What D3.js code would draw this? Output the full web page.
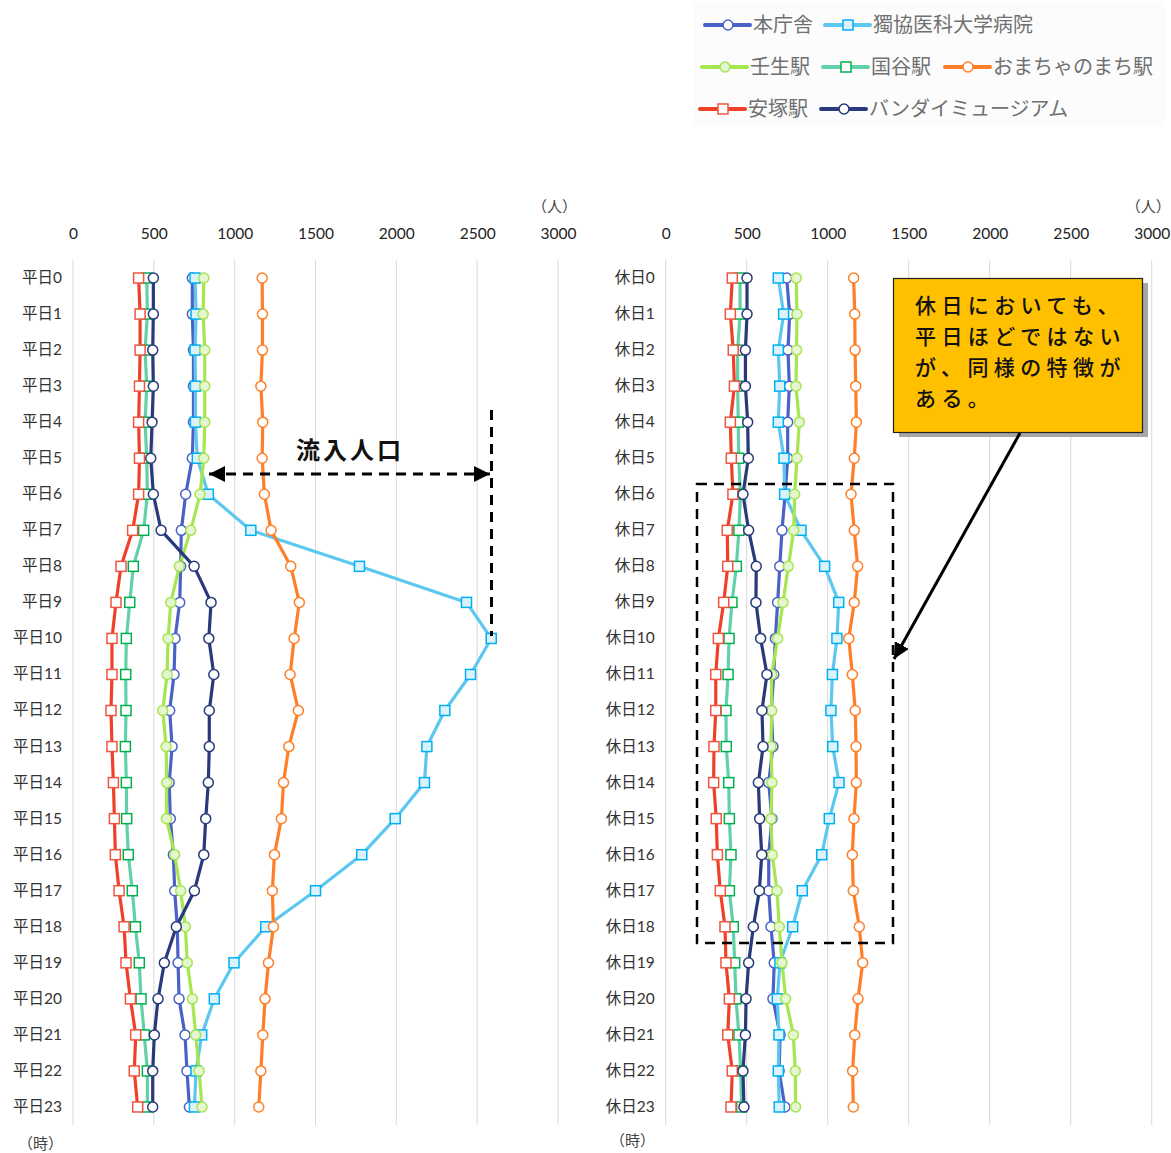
<!DOCTYPE html>
<html><head><meta charset="utf-8">
<script src="https://cdn.jsdelivr.net/npm/d3@7/dist/d3.min.js"></script>
<style>body{margin:0;background:#fff}svg{display:block}</style>
</head><body>
<svg id="c" width="1171" height="1153"></svg>
<script>
// ---------- data ----------
const hours = [0,1,2,3,4,5,6,7,8,9,10,11,12,13,14,15,16,17,18,19,20,21,22,23];
const xTicks = [0,500,1000,1500,2000,2500,3000];
const seriesNames = ["本庁舎","獨協医科大学病院","壬生駅","国谷駅","おまちゃのまち駅","安塚駅","バンダイミュージアム"];
const weekdayPrefix = "平日";
const holidayPrefix = "休日";

// weekday (平日)
const wdHoncho   = [738,738,745,745,745,738,697,670,666,660,631,625,598,613,595,602,621,629,645,650,656,693,705,720];
const wdDokkyo   = [755,761,755,757,757,769,837,1100,1772,2434,2587,2459,2300,2189,2174,1993,1786,1500,1192,996,874,796,761,751];
const wdMibu     = [809,805,815,815,815,809,786,728,658,605,588,582,555,576,580,578,629,666,695,707,738,759,780,798];
const wdKunigaya = [456,460,446,456,446,456,460,437,373,351,330,326,328,324,330,332,342,367,386,410,421,441,460,460];
const wdOmocha   = [1170,1172,1172,1162,1174,1170,1184,1225,1347,1400,1368,1343,1394,1335,1302,1289,1246,1233,1240,1209,1188,1174,1162,1149];
const wdYasuzuka = [406,415,415,411,406,411,406,369,297,266,241,241,235,241,250,256,262,285,316,328,355,388,379,400];
const wdBandai   = [497,497,493,497,489,481,497,545,749,854,840,871,843,843,837,821,809,751,639,565,526,503,493,493];

// holiday (休日)
const hdHoncho   = [747,765,755,763,753,753,737,718,704,691,677,667,652,662,636,656,636,636,650,670,662,706,700,736];
const hdDokkyo   = [695,728,695,704,695,730,734,835,981,1068,1057,1029,1020,1031,1070,1010,963,843,784,705,689,699,695,701];
const hdMibu     = [806,810,808,804,825,810,796,790,757,724,691,654,654,650,656,650,658,687,701,718,741,788,800,802];
const hdKunigaya = [459,459,444,444,448,451,461,452,436,409,391,385,372,374,389,393,403,393,417,426,434,452,463,469];
const hdOmocha   = [1160,1167,1169,1173,1177,1164,1144,1164,1185,1164,1130,1152,1170,1175,1177,1162,1152,1158,1195,1216,1187,1167,1154,1158];
const hdYasuzuka = [411,399,417,424,399,405,415,380,383,358,325,309,309,298,296,312,319,337,366,372,393,383,411,403];
const hdBandai   = [502,502,492,492,506,510,477,512,559,557,586,625,594,601,572,580,593,578,541,512,496,492,477,483];

const weekdaySeries = [wdHoncho, wdDokkyo, wdMibu, wdKunigaya, wdOmocha, wdYasuzuka, wdBandai];
const holidaySeries = [hdHoncho, hdDokkyo, hdMibu, hdKunigaya, hdOmocha, hdYasuzuka, hdBandai];

const calloutLines = ["休日においても、","平日ほどではない","が、同様の特徴が","ある。"];
const inflowLabel = "流入人口";

// ---------- styles ----------
const styles = [
  {line:"#4a62c7", shape:"circle", fill:"#ffffff", stroke:"#4a62c7"},
  {line:"#5cc8ef", shape:"square", fill:"#dcf2fb", stroke:"#00b0f0"},
  {line:"#a6e64f", shape:"circle", fill:"#e6f6d2", stroke:"#a6e64f"},
  {line:"#62d0aa", shape:"square", fill:"#ffffff", stroke:"#00b050"},
  {line:"#ff7f27", shape:"circle", fill:"#ffffff", stroke:"#ff7f27"},
  {line:"#f0402a", shape:"square", fill:"#ffffff", stroke:"#f0553f"},
  {line:"#283a7c", shape:"circle", fill:"#ffffff", stroke:"#283a7c"}
];
const FONT = "Lato, 'Noto Sans CJK JP', sans-serif";
const JFONT = "'Noto Sans CJK JP', sans-serif";

const svg = d3.select("#c");
const defs = svg.append("defs");
defs.append("marker").attr("id","ah").attr("viewBox","0 0 10 10").attr("refX",10).attr("refY",5)
  .attr("markerWidth",16).attr("markerHeight",16).attr("markerUnits","userSpaceOnUse").attr("orient","auto-start-reverse")
  .append("path").attr("d","M0,0 L10,5 L0,10 z").attr("fill","#000");

const yTop = 260, yBot = 1125;

function drawMarker(g, shape, cx, cy, st){
  if (shape === "circle") {
    g.append("circle").attr("cx",cx).attr("cy",cy).attr("r",5)
      .attr("fill",st.fill).attr("stroke",st.stroke).attr("stroke-width",1.5);
  } else {
    g.append("rect").attr("x",cx-5).attr("y",cy-5).attr("width",10).attr("height",10)
      .attr("fill",st.fill).attr("stroke",st.stroke).attr("stroke-width",1.5);
  }
}

function panel(x0, x1, prefix, seriesList){
  const xs = d3.scaleLinear().domain([0,3000]).range([x0,x1]);
  const ys = d3.scaleBand().domain(hours).range([yTop,yBot]);
  const yc = h => ys(h) + ys.bandwidth()/2;
  const g = svg.append("g");
  g.selectAll(".grid").data(xTicks).enter().append("line")
    .attr("x1",d=>xs(d)).attr("x2",d=>xs(d)).attr("y1",yTop).attr("y2",yBot)
    .attr("stroke","#d9d9d9").attr("stroke-width",1);
  const ax = g.append("g").attr("transform","translate(0,239)")
    .call(d3.axisTop(xs).tickValues(xTicks).tickSize(0).tickPadding(0).tickFormat(d3.format("d")));
  ax.select(".domain").remove();
  ax.selectAll("text").attr("font-family",FONT).attr("font-size",15.5).attr("fill","#222");
  const ay = g.append("g").attr("transform",`translate(${x0},0)`)
    .call(d3.axisLeft(ys).tickSize(0).tickPadding(11).tickFormat(h=>prefix+h));
  ay.select(".domain").remove();
  ay.selectAll("text").attr("font-family",FONT).attr("font-size",15.5).attr("fill","#333");
  g.append("text").attr("x",x1+19).attr("y",212).attr("text-anchor","end")
    .attr("font-family",JFONT).attr("font-size",15).attr("fill","#444").text("（人）");
  const line = d3.line().x(d=>xs(d[1])).y(d=>yc(d[0]));
  seriesList.forEach((vals,i)=>{
    const st = styles[i];
    const pts = hours.map((h,k)=>[h,vals[k]]);
    g.append("path").attr("d",line(pts)).attr("fill","none")
      .attr("stroke",st.line).attr("stroke-width",3.2).attr("stroke-linejoin","round");
  });
  seriesList.forEach((vals,i)=>{
    const st = styles[i];
    const mg = g.append("g");
    hours.forEach((h,k)=>drawMarker(mg, st.shape, xs(vals[k]), yc(h), st));
  });
  return {xs, ys, yc};
}

panel(73, 558, weekdayPrefix, weekdaySeries);
panel(665.7, 1151.7, holidayPrefix, holidaySeries);

svg.append("text").attr("x",18).attr("y",1144).attr("dy","0.36em").attr("font-family",JFONT).attr("font-size",15).attr("fill","#444").text("（時）");
svg.append("text").attr("x",610).attr("y",1141).attr("dy","0.36em").attr("font-family",JFONT).attr("font-size",15).attr("fill","#444").text("（時）");

// ---------- legend ----------
const legendItems = [
  {i:0, x:705, y:25}, {i:1, x:825, y:25},
  {i:2, x:702, y:67}, {i:3, x:823, y:67}, {i:4, x:945, y:67},
  {i:5, x:700, y:109}, {i:6, x:821, y:109}
];
const lg = svg.append("g");
lg.append("rect").attr("x",694).attr("y",2).attr("width",472).attr("height",124).attr("fill","#fcfcfc");
legendItems.forEach(it=>{
  const st = styles[it.i];
  lg.append("line").attr("x1",it.x).attr("x2",it.x+45).attr("y1",it.y).attr("y2",it.y)
    .attr("stroke",st.line).attr("stroke-width",4).attr("stroke-linecap","round");
  drawMarker(lg, st.shape, it.x+23, it.y, st);
  lg.append("text").attr("x",it.x+48).attr("y",it.y).attr("dy","0.36em")
    .attr("font-family",JFONT).attr("font-size",20).attr("fill","#707070").text(seriesNames[it.i]);
});

// ---------- annotations (left) ----------
const ann = svg.append("g");
ann.append("line").attr("x1",491.5).attr("x2",491.5).attr("y1",410).attr("y2",636)
  .attr("stroke","#000").attr("stroke-width",3).attr("stroke-dasharray","10,7");
ann.append("line").attr("x1",209).attr("x2",490).attr("y1",474).attr("y2",474)
  .attr("stroke","#000").attr("stroke-width",3).attr("stroke-dasharray","10,7")
  .attr("marker-start","url(#ah)").attr("marker-end","url(#ah)");
ann.append("text").attr("x",296).attr("y",459).attr("font-family",JFONT).attr("font-size",24)
  .attr("font-weight","bold").attr("letter-spacing",3).attr("fill","#111").text(inflowLabel);

// ---------- annotations (right) ----------
ann.append("rect").attr("x",697).attr("y",484).attr("width",196).attr("height",459)
  .attr("fill","none").attr("stroke","#000").attr("stroke-width",2.5).attr("stroke-dasharray","10,7");
ann.append("rect").attr("x",899).attr("y",283).attr("width",249).attr("height",154).attr("fill","#a6a6a6");
ann.append("rect").attr("x",893.5).attr("y",278.5).attr("width",249).attr("height",154)
  .attr("fill","#ffc000").attr("stroke","#222").attr("stroke-width",1.2);
calloutLines.forEach((t,k)=>{
  ann.append("text").attr("x",915).attr("y",305+k*31).attr("dy","0.36em")
    .attr("font-family",JFONT).attr("font-size",21).attr("font-weight",500).attr("letter-spacing",5.4)
    .attr("fill","#111").text(t);
});
ann.append("line").attr("x1",1020).attr("y1",433).attr("x2",894).attr("y2",659)
  .attr("stroke","#000").attr("stroke-width",3).attr("marker-end","url(#ah)");
</script>
</body></html>
